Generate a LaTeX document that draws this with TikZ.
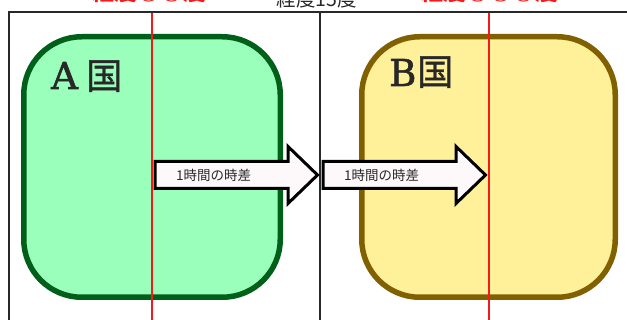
\documentclass[tikz,border=0pt]{standalone}
\usepackage{fontspec}
\newfontfamily\jpfont{Noto Sans CJK JP}
\newfontfamily\jpsemi{Noto Sans CJK JP}[FakeBold=1.2]
\newfontfamily\latserif{DejaVu Serif}[FakeBold=1.6]
\definecolor{greenfill}{RGB}{153,255,187}
\definecolor{greenline}{RGB}{0,95,25}
\definecolor{yellowfill}{RGB}{255,241,153}
\definecolor{yellowline}{RGB}{128,96,0}
\definecolor{arrowfill}{RGB}{253,248,250}
\definecolor{inkgray}{RGB}{40,40,40}
\definecolor{merid}{RGB}{245,25,25}
\tikzset{
  frameline/.style={draw=inkgray, line width=2pt},
  meridian/.style={draw=merid, line width=2pt},
  country/.style={rectangle, rounded corners=58pt, line width=5.5pt, inner sep=0pt, outer sep=0pt},
  shaftbox/.style={rectangle, minimum width=133pt, minimum height=27pt, inner sep=0pt, outer sep=0pt},
  arrowline/.style={draw=black, fill=arrowfill, line width=3pt, line join=miter},
  arrowlabel/.style={inner sep=0pt, anchor=west, font=\jpfont\fontsize{13.5}{13.5}\selectfont, text=inkgray},
  latlabel/.style={inner sep=0pt, anchor=base, font=\jpfont\bfseries\fontsize{23}{23}\selectfont, text=merid},
  toplabel/.style={inner sep=0pt, anchor=base, font=\jpfont\fontsize{19.5}{19.5}\selectfont, text=inkgray},
  letterlabel/.style={inner sep=0pt, anchor=base west, font=\latserif\fontsize{37}{37}\selectfont, text=inkgray},
  kokulabel/.style={inner sep=0pt, anchor=base west, font=\jpsemi\fontsize{36}{36}\selectfont, text=inkgray}
}
\begin{document}
\begin{tikzpicture}[x=1pt, y=-1pt]
\useasboundingbox (0,0) rectangle (627,320);
\clip (0,0) rectangle (627,320);
% country boxes
\node[country, fill=greenfill, draw=greenline, minimum width=256.5pt, minimum height=260.5pt] (A) at (152,167) {};
\node[country, fill=yellowfill, draw=yellowline, minimum width=253.5pt, minimum height=260.5pt] (B) at (488.5,167) {};
% frame
\coordinate (fl) at (9,330);
\coordinate (ftl) at (9,12.5);
\coordinate (ftr) at (640,12.5);
\coordinate (fmt) at (319.5,12.5);
\coordinate (fmb) at (319.5,330);
\draw[frameline] (fl) -- (ftl) -- (ftr);
\draw[frameline] (fmt) -- (fmb);
% meridians
\coordinate (m1t) at (151.5,13.5);
\coordinate (m1b) at (151.5,330);
\coordinate (m2t) at (489,13.5);
\coordinate (m2b) at (489,330);
\draw[meridian] (m1t) -- (m1b);
\draw[meridian] (m2t) -- (m2b);
% top labels
\node[latlabel] (lat1) at (149,0.5) {経度○○度};
\node[latlabel] (lat2) at (489.5,0.5) {経度○○○度};
\node[toplabel] (diff) at (317,7) {経度15度};
% country names
\node[letterlabel] (Aletter) at (51,89) {A};
\node[kokulabel] (Akoku) at (86,89) {国};
\node[letterlabel] (Bletter) at (389,86) {B};
\node[kokulabel] (Bkoku) at (417,85) {国};
% arrows
\node[shaftbox] (s1) at (221.5,175) {};
\path[arrowline] (s1.north west) -- (s1.north east) -- ++(0,-15) -- ++(29.5,28.5) -- ++(-29.5,28.5) -- ++(0,-15) -- (s1.south west) -- cycle;
\node[arrowlabel] (l1) at ([xshift=21pt]s1.west) {1時間の時差};
\node[shaftbox] (s2) at (389.5,175) {};
\path[arrowline] (s2.north west) -- (s2.north east) -- ++(0,-15) -- ++(29.5,28.5) -- ++(-29.5,28.5) -- ++(0,-15) -- (s2.south west) -- cycle;
\node[arrowlabel] (l2) at ([xshift=21pt]s2.west) {1時間の時差};
\end{tikzpicture}
\end{document}
